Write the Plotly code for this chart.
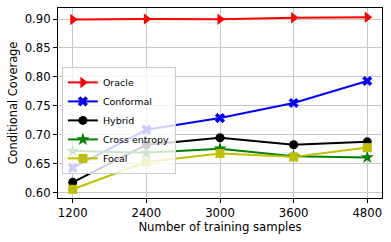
import plotly.graph_objects as go

samples = ["1200", "2400", "3000", "3600", "4800"]
oracle = [0.899, 0.900, 0.8995, 0.902, 0.903]
conformal = [0.643, 0.709, 0.729, 0.755, 0.793]
hybrid = [0.618, 0.683, 0.695, 0.683, 0.688]
cross_entropy = [0.672, 0.669, 0.676, 0.663, 0.661]
focal = [0.606, 0.653, 0.668, 0.662, 0.678]

series = [
    ("Oracle", oracle, "red", "triangle-right", 10),
    ("Conformal", conformal, "blue", "x", 9),
    ("Hybrid", hybrid, "black", "circle", 9),
    ("Cross entropy", cross_entropy, "green", "star", 10),
    ("Focal", focal, "#BFBF00", "square", 9),
]

fig = go.Figure()
for name, vals, color, sym, size in series:
    fig.add_trace(go.Scatter(
        x=samples, y=vals, name=name, mode="lines+markers",
        line=dict(color=color, width=2),
        marker=dict(color=color, symbol=sym, size=size, line=dict(width=0)),
    ))

fig.update_layout(
    width=391, height=242,
    margin=dict(l=58, r=9, t=8, b=44),
    paper_bgcolor="white", plot_bgcolor="white",
    font=dict(family="DejaVu Sans", size=12, color="black"),
    showlegend=True,
    legend=dict(x=0.012, y=0.69, xanchor="left", yanchor="top",
                bgcolor="rgba(255,255,255,0.8)", bordercolor="#cccccc", borderwidth=1,
                font=dict(size=9.5), tracegroupgap=0, itemwidth=30),
)
fig.update_xaxes(
    type="category", range=[-0.2, 4.2],
    showgrid=True, gridcolor="#c8c8c8", gridwidth=1,
    showline=True, linecolor="black", linewidth=1, mirror=True,
    ticks="outside", ticklen=4, tickcolor="black",
    ticklabeloverflow="allow",
    title=dict(text="Number of training samples", font=dict(size=11.7), standoff=3),
    tickfont=dict(size=11.7), automargin=False,
)
fig.update_yaxes(
    range=[0.591, 0.919], tickvals=[0.60, 0.65, 0.70, 0.75, 0.80, 0.85, 0.90],
    tickformat=".2f",
    showgrid=True, gridcolor="#c8c8c8", gridwidth=1,
    showline=True, linecolor="black", linewidth=1, mirror=True,
    ticks="outside", ticklen=4, tickcolor="black",
    title=dict(text="Conditional Coverage", font=dict(size=11.4), standoff=4),
    tickfont=dict(size=11.7), zeroline=False, automargin=False,
)
fig.write_html("out.html", config={"displayModeBar": False},
               post_script="document.body.style.margin='0';")
